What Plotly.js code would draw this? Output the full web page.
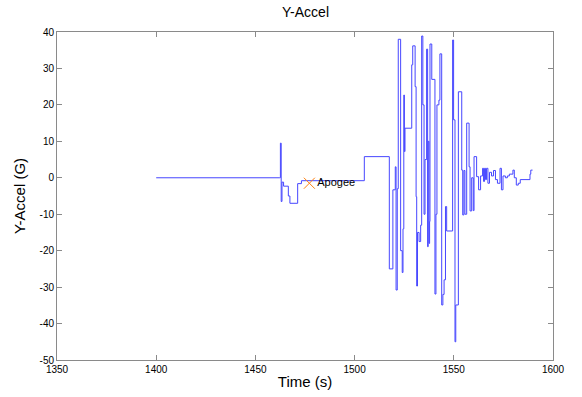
<!DOCTYPE html>
<html>
<head>
<meta charset="utf-8">
<script src="https://cdn.plot.ly/plotly-3.0.1.min.js"></script>
<style>html,body{margin:0;padding:0;background:#fff;}#chart{width:582px;height:397px;}</style>
</head>
<body>
<div id="chart"></div>
<script>
var timeS = [1400,1462.0,1462.6,1463.0,1463.4,1464.2,1466.6,1467.4,1471.3,1473.2,1504.9,
  1517.5,1519.3,1520.5,1520.9,1521.5,1522.0,1523.2,1524.0,1524.4,1524.8,1525.1,1525.4,
  1528.8,1529.3,1530.5,1531.0,1531.3,1531.7,1532.5,1533.3,1533.8,1534.4,1535.0,1535.5,1536.3,
  1536.8,1537.1,1537.5,1537.8,1538.0,1538.9,1540.5,1541.0,1541.5,1542.5,1543.0,1543.9,1544.5,
  1545.1,1545.8,1546.4,1549.4,1549.9,1550.6,1551.0,1552.3,1554.0,1554.5,1555.1,1555.6,
  1556.5,1557.7,1558.2,1559.0,1559.8,1560.2,1561.5,1562.5,1563.5,1564.5,1565.0,1565.5,
  1566.0,1566.5,1567.2,1568.0,1569.0,1570.0,1571.0,1572.0,1573.3,1574.0,1574.8,1576.0,
  1577.0,1578.0,1579.8,1580.5,1581.5,1582.5,1583.5,1588.4,1588.8,1589.7];
var yAccel = [0,0,9.5,-6.5,-1.2,-2.3,-5,-7,-1.6,-0.8,5.8,
  -25,-3.3,3,-30.8,-3,38,-20,-26,-14,22.7,7.2,13.6,
  31,36.2,25,-5.2,-29.7,-15,-17.5,-13,38.9,20,-10,5,35.3,
  -18.9,10,-18,-12,36.7,27,-31.9,-10,20,21.3,34,-34.9,-32,
  -28,-7.9,-14.6,37.8,15.9,-45,-34.9,23.6,2.1,-10.2,2,-10,
  15,3,-9.1,0,-9,5.8,0.3,-3.3,0.5,2.6,-1,2.6,
  -0.5,2.6,-1.5,1.5,0.5,2,-0.5,-1.5,2.6,-3.3,0.5,0,
  0.5,1,2.1,0,-2,-1.5,-0.5,1,2.1,2.1];
var apogeeT = [1477.2];
var apogeeV = [-1.5];
var apogeeLabel = ['Apogee'];
var xTicks = [1350,1400,1450,1500,1550,1600];
var yTicks = [-50,-40,-30,-20,-10,0,10,20,30,40];

var traces = [
  {x: timeS, y: yAccel, type: 'scatter', mode: 'lines',
   line: {color: 'rgb(70,70,255)', width: 1, shape: 'hv'}, hoverinfo: 'skip'},
  {x: apogeeT, y: apogeeV, type: 'scatter', mode: 'markers+text',
   marker: {symbol: 'x-thin-open', size: 11, line: {color: 'rgb(255,90,110)', width: 1}},
   text: apogeeLabel, textposition: 'middle right',
   textfont: {family: 'Liberation Sans, Arial, sans-serif', size: 11, color: '#000'}}
];
var axisCommon = {
  showgrid: false, zeroline: false, showline: true, linecolor: '#8a8a8a', linewidth: 1,
  mirror: 'ticks', ticks: 'inside', ticklen: 5, tickcolor: '#8a8a8a',
  tickfont: {family: 'Liberation Sans, Arial, sans-serif', size: 10, color: '#000'}
};
var layout = {
  width: 582, height: 397,
  margin: {l: 57, r: 29, t: 32, b: 37},
  paper_bgcolor: '#fff', plot_bgcolor: '#fff',
  showlegend: false,
  title: {text: 'Y-Accel', x: 0.525, xanchor: 'center', y: 0.982, yanchor: 'top',
          font: {family: 'Liberation Sans, Arial, sans-serif', size: 14, color: '#000'}},
  xaxis: Object.assign({}, axisCommon, {range: [1350, 1600], tickvals: xTicks,
    ticktext: xTicks.map(String),
    title: {text: 'Time (s)', standoff: 2, font: {family: 'Liberation Sans, Arial, sans-serif', size: 15, color: '#000'}}}),
  yaxis: Object.assign({}, axisCommon, {range: [-50, 40], tickvals: yTicks,
    ticktext: yTicks.map(String),
    title: {text: 'Y-Accel (G)', standoff: 10, font: {family: 'Liberation Sans, Arial, sans-serif', size: 15, color: '#000'}}})
};
Plotly.newPlot('chart', traces, layout, {staticPlot: true, displayModeBar: false});
</script>
</body>
</html>
